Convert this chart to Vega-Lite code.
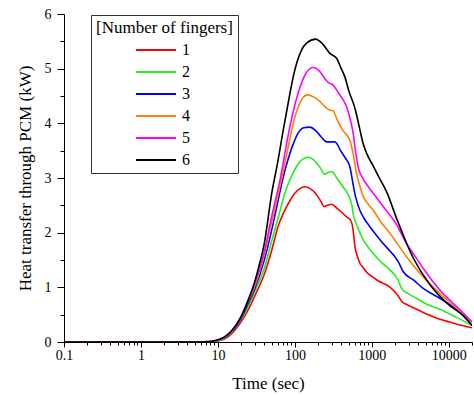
{
  "$schema": "https://vega.github.io/schema/vega-lite/v6.json",
  "autosize": {"type": "none"},
  "width": 408,
  "height": 328,
  "padding": {"left": 64, "top": 14, "right": 2, "bottom": 54},
  "background": "white",
  "config": {
    "view": {"stroke": null},
    "font": "Liberation Serif",
    "style": {"guide-label": {"font": "Liberation Serif", "fill": "black"}, "guide-title": {"font": "Liberation Serif", "fill": "black", "fontWeight": "normal"}},
    "axis": {"grid": false, "domainColor": "black", "tickColor": "black", "labelColor": "black", "titleColor": "black", "labelFont": "Liberation Serif", "titleFont": "Liberation Serif", "titleFontWeight": "normal", "labelFontSize": 14, "titleFontSize": 17},
    "legend": {"labelFont": "Liberation Serif", "titleFont": "Liberation Serif"}
  },
  "data": {"values": [
    {"f":"1","t":0.1,"v":0},{"f":"1","t":1,"v":0},{"f":"1","t":5,"v":0},{"f":"1","t":8,"v":0.005},{"f":"1","t":10,"v":0.02},{"f":"1","t":12,"v":0.05},{"f":"1","t":15,"v":0.15},{"f":"1","t":20,"v":0.37},{"f":"1","t":25,"v":0.6},{"f":"1","t":30,"v":0.84},{"f":"1","t":40,"v":1.24},{"f":"1","t":50,"v":1.68},{"f":"1","t":60,"v":2.1},{"f":"1","t":70,"v":2.34},{"f":"1","t":85,"v":2.57},{"f":"1","t":100,"v":2.72},{"f":"1","t":115,"v":2.8},{"f":"1","t":135,"v":2.84},{"f":"1","t":160,"v":2.8},{"f":"1","t":190,"v":2.7},{"f":"1","t":220,"v":2.56},{"f":"1","t":240,"v":2.48},{"f":"1","t":265,"v":2.5},{"f":"1","t":300,"v":2.52},{"f":"1","t":350,"v":2.45},{"f":"1","t":400,"v":2.38},{"f":"1","t":470,"v":2.29},{"f":"1","t":540,"v":2.2},{"f":"1","t":570,"v":2.05},{"f":"1","t":600,"v":1.76},{"f":"1","t":650,"v":1.56},{"f":"1","t":700,"v":1.44},{"f":"1","t":773,"v":1.36},{"f":"1","t":850,"v":1.28},{"f":"1","t":1000,"v":1.2},{"f":"1","t":1200,"v":1.12},{"f":"1","t":1700,"v":1.01},{"f":"1","t":2100,"v":0.88},{"f":"1","t":2300,"v":0.8},{"f":"1","t":2450,"v":0.74},{"f":"1","t":2800,"v":0.69},{"f":"1","t":3440,"v":0.63},{"f":"1","t":4500,"v":0.55},{"f":"1","t":5660,"v":0.49},{"f":"1","t":7500,"v":0.42},{"f":"1","t":10000,"v":0.37},{"f":"1","t":14000,"v":0.31},{"f":"1","t":20000,"v":0.26},
    {"f":"2","t":0.1,"v":0},{"f":"2","t":1,"v":0},{"f":"2","t":5,"v":0},{"f":"2","t":8,"v":0.006},{"f":"2","t":10,"v":0.02},{"f":"2","t":12,"v":0.06},{"f":"2","t":15,"v":0.17},{"f":"2","t":20,"v":0.41},{"f":"2","t":25,"v":0.66},{"f":"2","t":30,"v":0.92},{"f":"2","t":40,"v":1.35},{"f":"2","t":50,"v":1.85},{"f":"2","t":60,"v":2.25},{"f":"2","t":74,"v":2.72},{"f":"2","t":85,"v":2.95},{"f":"2","t":105,"v":3.21},{"f":"2","t":125,"v":3.34},{"f":"2","t":149,"v":3.38},{"f":"2","t":175,"v":3.33},{"f":"2","t":210,"v":3.2},{"f":"2","t":245,"v":3.07},{"f":"2","t":270,"v":3.1},{"f":"2","t":300,"v":3.12},{"f":"2","t":350,"v":3.0},{"f":"2","t":420,"v":2.84},{"f":"2","t":517,"v":2.63},{"f":"2","t":550,"v":2.5},{"f":"2","t":575,"v":2.33},{"f":"2","t":630,"v":2.15},{"f":"2","t":700,"v":2.0},{"f":"2","t":773,"v":1.87},{"f":"2","t":900,"v":1.73},{"f":"2","t":1042,"v":1.62},{"f":"2","t":1300,"v":1.47},{"f":"2","t":1714,"v":1.32},{"f":"2","t":2200,"v":1.13},{"f":"2","t":2430,"v":0.98},{"f":"2","t":3000,"v":0.88},{"f":"2","t":3800,"v":0.8},{"f":"2","t":5000,"v":0.7},{"f":"2","t":7640,"v":0.6},{"f":"2","t":12600,"v":0.45},{"f":"2","t":20000,"v":0.3},
    {"f":"3","t":0.1,"v":0},{"f":"3","t":1,"v":0},{"f":"3","t":5,"v":0},{"f":"3","t":8,"v":0.007},{"f":"3","t":10,"v":0.03},{"f":"3","t":12,"v":0.07},{"f":"3","t":15,"v":0.18},{"f":"3","t":20,"v":0.43},{"f":"3","t":25,"v":0.72},{"f":"3","t":30,"v":0.97},{"f":"3","t":40,"v":1.5},{"f":"3","t":50,"v":2.05},{"f":"3","t":58,"v":2.47},{"f":"3","t":70,"v":3.0},{"f":"3","t":81,"v":3.33},{"f":"3","t":95,"v":3.62},{"f":"3","t":110,"v":3.82},{"f":"3","t":130,"v":3.92},{"f":"3","t":157,"v":3.93},{"f":"3","t":185,"v":3.87},{"f":"3","t":220,"v":3.75},{"f":"3","t":250,"v":3.67},{"f":"3","t":275,"v":3.66},{"f":"3","t":330,"v":3.66},{"f":"3","t":400,"v":3.48},{"f":"3","t":450,"v":3.37},{"f":"3","t":517,"v":3.21},{"f":"3","t":560,"v":2.95},{"f":"3","t":600,"v":2.72},{"f":"3","t":630,"v":2.6},{"f":"3","t":698,"v":2.41},{"f":"3","t":800,"v":2.25},{"f":"3","t":942,"v":2.11},{"f":"3","t":1403,"v":1.8},{"f":"3","t":2200,"v":1.47},{"f":"3","t":2550,"v":1.29},{"f":"3","t":3500,"v":1.13},{"f":"3","t":4640,"v":0.98},{"f":"3","t":7640,"v":0.8},{"f":"3","t":12600,"v":0.59},{"f":"3","t":20000,"v":0.31},
    {"f":"4","t":0.1,"v":0},{"f":"4","t":1,"v":0},{"f":"4","t":5,"v":0},{"f":"4","t":8,"v":0.008},{"f":"4","t":10,"v":0.03},{"f":"4","t":12,"v":0.08},{"f":"4","t":15,"v":0.19},{"f":"4","t":20,"v":0.45},{"f":"4","t":25,"v":0.76},{"f":"4","t":30,"v":1.02},{"f":"4","t":40,"v":1.6},{"f":"4","t":50,"v":2.2},{"f":"4","t":64,"v":2.85},{"f":"4","t":80,"v":3.5},{"f":"4","t":95,"v":4.0},{"f":"4","t":122,"v":4.43},{"f":"4","t":145,"v":4.52},{"f":"4","t":165,"v":4.5},{"f":"4","t":200,"v":4.43},{"f":"4","t":240,"v":4.32},{"f":"4","t":263,"v":4.27},{"f":"4","t":290,"v":4.24},{"f":"4","t":314,"v":4.23},{"f":"4","t":350,"v":4.08},{"f":"4","t":420,"v":3.87},{"f":"4","t":517,"v":3.69},{"f":"4","t":570,"v":3.45},{"f":"4","t":630,"v":3.09},{"f":"4","t":700,"v":2.85},{"f":"4","t":773,"v":2.66},{"f":"4","t":900,"v":2.52},{"f":"4","t":1042,"v":2.41},{"f":"4","t":1300,"v":2.2},{"f":"4","t":1714,"v":1.99},{"f":"4","t":2820,"v":1.56},{"f":"4","t":4640,"v":1.19},{"f":"4","t":7640,"v":0.89},{"f":"4","t":12600,"v":0.62},{"f":"4","t":20000,"v":0.36},
    {"f":"5","t":0.1,"v":0},{"f":"5","t":1,"v":0},{"f":"5","t":5,"v":0},{"f":"5","t":8,"v":0.008},{"f":"5","t":10,"v":0.03},{"f":"5","t":12,"v":0.08},{"f":"5","t":15,"v":0.2},{"f":"5","t":20,"v":0.47},{"f":"5","t":25,"v":0.79},{"f":"5","t":30,"v":1.06},{"f":"5","t":40,"v":1.65},{"f":"5","t":50,"v":2.3},{"f":"5","t":64,"v":2.96},{"f":"5","t":86,"v":3.94},{"f":"5","t":110,"v":4.55},{"f":"5","t":140,"v":4.92},{"f":"5","t":173,"v":5.02},{"f":"5","t":210,"v":4.95},{"f":"5","t":250,"v":4.8},{"f":"5","t":275,"v":4.74},{"f":"5","t":314,"v":4.7},{"f":"5","t":370,"v":4.55},{"f":"5","t":424,"v":4.43},{"f":"5","t":470,"v":4.3},{"f":"5","t":500,"v":4.18},{"f":"5","t":572,"v":3.82},{"f":"5","t":620,"v":3.45},{"f":"5","t":664,"v":3.2},{"f":"5","t":773,"v":2.98},{"f":"5","t":900,"v":2.84},{"f":"5","t":1042,"v":2.72},{"f":"5","t":1403,"v":2.48},{"f":"5","t":2090,"v":2.15},{"f":"5","t":2820,"v":1.8},{"f":"5","t":3440,"v":1.62},{"f":"5","t":4640,"v":1.35},{"f":"5","t":7640,"v":0.95},{"f":"5","t":12600,"v":0.65},{"f":"5","t":20000,"v":0.37},
    {"f":"6","t":0.1,"v":0},{"f":"6","t":1,"v":0},{"f":"6","t":5,"v":0},{"f":"6","t":8,"v":0.01},{"f":"6","t":10,"v":0.04},{"f":"6","t":12,"v":0.09},{"f":"6","t":15,"v":0.2},{"f":"6","t":20,"v":0.46},{"f":"6","t":25,"v":0.78},{"f":"6","t":30,"v":1.1},{"f":"6","t":35,"v":1.45},{"f":"6","t":40,"v":1.8},{"f":"6","t":50,"v":2.72},{"f":"6","t":60,"v":3.3},{"f":"6","t":70,"v":3.85},{"f":"6","t":85,"v":4.5},{"f":"6","t":95,"v":4.85},{"f":"6","t":122,"v":5.34},{"f":"6","t":143,"v":5.47},{"f":"6","t":186,"v":5.54},{"f":"6","t":230,"v":5.45},{"f":"6","t":285,"v":5.28},{"f":"6","t":348,"v":5.19},{"f":"6","t":400,"v":5.0},{"f":"6","t":446,"v":4.85},{"f":"6","t":500,"v":4.6},{"f":"6","t":601,"v":4.28},{"f":"6","t":700,"v":3.88},{"f":"6","t":760,"v":3.66},{"f":"6","t":850,"v":3.46},{"f":"6","t":1042,"v":3.22},{"f":"6","t":1250,"v":3.0},{"f":"6","t":1550,"v":2.75},{"f":"6","t":2110,"v":2.25},{"f":"6","t":3410,"v":1.55},{"f":"6","t":5660,"v":1.05},{"f":"6","t":10000,"v":0.68},{"f":"6","t":15500,"v":0.48},{"f":"6","t":20000,"v":0.3}
  ]},
  "mark": {"type": "line", "strokeWidth": 1.6, "interpolate": "monotone", "clip": true},
  "encoding": {
    "x": {
      "field": "t", "type": "quantitative",
      "scale": {"type": "log", "domain": [0.1, 20000], "nice": false},
      "axis": {
        "title": "Time (sec)",
        "values": [0.1,0.2,0.3,0.4,0.5,0.6,0.7,0.8,0.9,1,2,3,4,5,6,7,8,9,10,20,30,40,50,60,70,80,90,100,200,300,400,500,600,700,800,900,1000,2000,3000,4000,5000,6000,7000,8000,9000,10000,20000],
        "labelExpr": "abs(log(datum.value)/LN10 - round(log(datum.value)/LN10)) < 0.000001 ? format(datum.value, '~g') : ''",
        "labelOverlap": false,
        "labelFlush": false,
        "labelFont": "Liberation Serif",
        "titleFont": "Liberation Serif",
        "tickSize": {"condition": {"test": "abs(log(datum.value)/LN10 - round(log(datum.value)/LN10)) < 0.000001", "value": 5}, "value": 3},
        "labelPadding": 1,
        "titlePadding": 13
      }
    },
    "y": {
      "field": "v", "type": "quantitative",
      "scale": {"domain": [0, 6], "nice": false},
      "axis": {
        "title": "Heat transfer through PCM (kW)",
        "values": [0,0.5,1,1.5,2,2.5,3,3.5,4,4.5,5,5.5,6],
        "labelExpr": "datum.value % 1 == 0 ? format(datum.value, 'd') : ''",
        "labelOverlap": false,
        "labelFlush": false,
        "labelFont": "Liberation Serif",
        "titleFont": "Liberation Serif",
        "tickSize": {"condition": {"test": "datum.value % 1 == 0", "value": 7}, "value": 4},
        "labelPadding": 6,
        "titlePadding": 10
      }
    },
    "color": {
      "field": "f", "type": "nominal",
      "scale": {"domain": ["1","2","3","4","5","6"], "range": ["#ff0000","#22ee22","#0000ff","#ff8000","#ff00ff","#000000"]},
      "legend": {
        "title": "[Number of fingers]",
        "orient": "none",
        "legendX": 27,
        "legendY": 1,
        "strokeColor": "#333333",
        "fillColor": "white",
        "padding": 5,
        "titleFont": "Liberation Serif",
        "titleFontSize": 17,
        "titleFontWeight": "normal",
        "titleColor": "black",
        "titlePadding": 4,
        "labelFont": "Liberation Serif",
        "labelFontSize": 16,
        "labelColor": "black",
        "symbolType": "M-2.5,0H2.5",
        "symbolSize": 256,
        "symbolStrokeWidth": 2,
        "symbolOffset": 51,
        "labelOffset": 17,
        "rowPadding": 5
      }
    }
  }
}
